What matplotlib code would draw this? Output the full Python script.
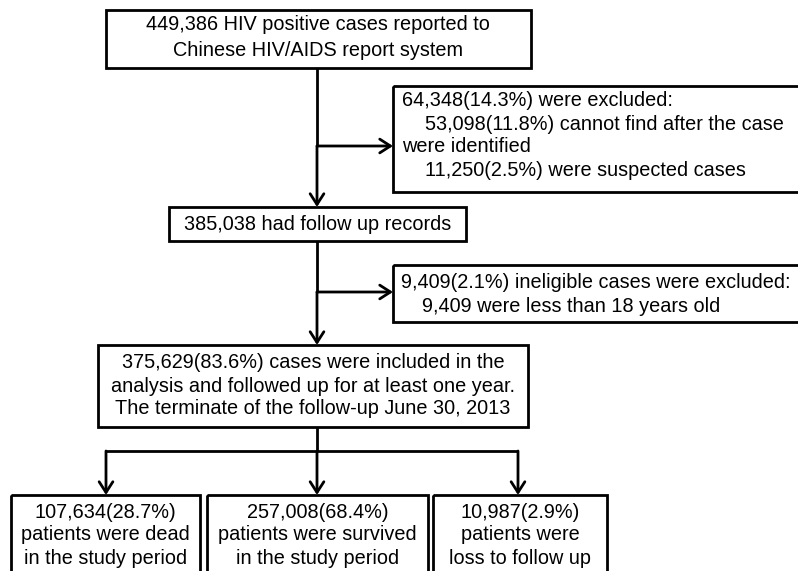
import matplotlib
matplotlib.use("Agg")
import matplotlib.pyplot as plt
from matplotlib import font_manager
from matplotlib.patches import Rectangle, FancyArrowPatch

# texts of the flow chart
top_lines = ["449,386 HIV positive cases reported to", "Chinese HIV/AIDS report system"]
excl1_lines = ["64,348(14.3%) were excluded:",
               "53,098(11.8%) cannot find after the case",
               "were identified",
               "11,250(2.5%) were suspected cases"]
excl1_indent = [0, 1, 0, 1]
follow_lines = ["385,038 had follow up records"]
excl2_lines = ["9,409(2.1%) ineligible cases were excluded:",
               "9,409 were less than 18 years old"]
excl2_indent = [0, 1]
main_lines = ["375,629(83.6%) cases were included in the",
              "analysis and followed up for at least one year.",
              "The terminate of the follow-up June 30, 2013"]
outcome_lines = [["107,634(28.7%)", "patients were dead", "in the study period"],
                 ["257,008(68.4%)", "patients were survived", "in the study period"],
                 ["10,987(2.9%)", "patients were", "loss to follow up"]]

names = {f.name for f in font_manager.fontManager.ttflist}
reg = "Liberation Sans" if "Liberation Sans" in names else "DejaVu Sans"

W, H = 798, 571
fig = plt.figure(figsize=(W / 100, H / 100), dpi=100)
ax = fig.add_axes([0, 0, 1, 1])
ax.set_xlim(0, W)
ax.set_ylim(H, 0)
ax.axis("off")

LW = 2.0
FS = 14.3


def box(x0, y0, x1, y1):
    ax.add_patch(Rectangle((x0, y0), x1 - x0, y1 - y0, fill=False,
                           lw=LW, ec="black", clip_on=True))


def line(x0, y0, x1, y1):
    ax.plot([x0, x1], [y0, y1], color="black", lw=LW, solid_capstyle="butt")


def arrow(x0, y0, x1, y1):
    ax.add_patch(FancyArrowPatch((x0, y0), (x1, y1), arrowstyle="->,head_length=0.7,head_width=0.45",
                                 mutation_scale=11, lw=LW, color="black",
                                 shrinkA=0, shrinkB=0))


def lines_centered(xc, ys, lines):
    for y, s in zip(ys, lines):
        ax.text(xc, y, s, ha="center", va="center", fontsize=FS, family=reg)


def lines_left(xs, ys, lines):
    for x, y, s in zip(xs, ys, lines):
        ax.text(x, y, s, ha="left", va="center", fontsize=FS, family=reg)


# boxes
box(106, 10, 531, 68)
box(393, 86, 820, 192)
box(169, 207, 466, 241)
box(393, 265, 820, 322)
box(98, 345, 528, 427)
out_boxes = [(11, 200), (207, 428), (433, 607)]
for x0, x1 in out_boxes:
    box(x0, 495, x1, 600)

# connectors
cx = 317
line(cx, 68, cx, 146)
arrow(cx, 146, cx, 207)
arrow(cx, 146, 393, 146)
line(cx, 241, cx, 292)
arrow(cx, 292, cx, 345)
arrow(cx, 292, 393, 292)
line(cx, 427, cx, 451)
drops = [106, 317, 518]
line(drops[0], 451, drops[-1], 451)
for xd in drops:
    arrow(xd, 451, xd, 495)

# text
lines_centered(318, [25, 50], top_lines)
lines_left([402 + 23 * i for i in excl1_indent], [101, 124, 147, 170], excl1_lines)
lines_centered(317.5, [224], follow_lines)
lines_left([401 + 21 * i for i in excl2_indent], [283, 306], excl2_lines)
lines_centered(313, [363, 386, 409], main_lines)
for (x0, x1), txt in zip(out_boxes, outcome_lines):
    lines_centered((x0 + x1) / 2, [512, 535, 559], txt)

fig.savefig("out.png", dpi=100)
